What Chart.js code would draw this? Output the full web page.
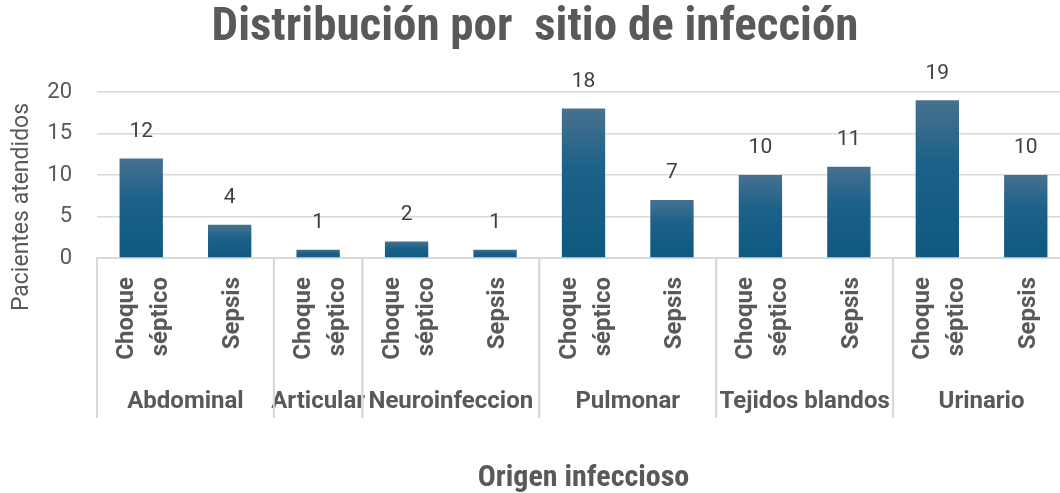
<!DOCTYPE html>
<html>
<head>
<meta charset="utf-8">
<script src="https://cdn.jsdelivr.net/npm/chart.js@4.4.1/dist/chart.umd.min.js"></script>
<style>
  html, body { margin: 0; padding: 0; background: #fff; overflow: hidden; }
  #wrap { width: 1075px; height: 493px; }
</style>
</head>
<body>
<div id="wrap"><canvas id="myChart" width="1075" height="493"></canvas></div>
<script>
const categories = ['Choque séptico', 'Sepsis', 'Choque séptico', 'Choque séptico', 'Sepsis',
  'Choque séptico', 'Sepsis', 'Choque séptico', 'Sepsis', 'Choque séptico', 'Sepsis']
const groups = ['Abdominal', 'Abdominal', 'Articular', 'Neuroinfeccion', 'Neuroinfeccion',
  'Pulmonar', 'Pulmonar', 'Tejidos blandos', 'Tejidos blandos', 'Urinario', 'Urinario']
const values = [12, 4, 1, 2, 1, 18, 7, 10, 11, 19, 10]
const yTicks = [0, 5, 10, 15, 20]

const NARROW = '"Liberation Sans Narrow", "Roboto Condensed", Roboto, sans-serif'
const PLAIN = 'Roboto, "Open Sans", sans-serif'
const GREY = '#595959'
const LINE = '#d9d9d9'

function barGradient(context) {
  const chart = context.chart
  if (!chart.chartArea || context.type !== 'data') return '#155e86'
  const y = chart.scales.y
  const top = y.getPixelForValue(values[context.dataIndex])
  const bottom = y.getPixelForValue(0)
  const g = chart.ctx.createLinearGradient(0, top, 0, bottom)
  g.addColorStop(0, '#47718f')
  g.addColorStop(0.4, '#1c6189')
  g.addColorStop(1, '#0e5980')
  return g
}

// value labels, two-level category axis and y title
const extras = {
  id: 'extras',
  afterDatasetsDraw(chart) {
    const ctx = chart.ctx
    const meta = chart.getDatasetMeta(0)
    ctx.save()
    ctx.fillStyle = '#404040'
    ctx.font = '21px ' + PLAIN
    ctx.textAlign = 'center'
    ctx.textBaseline = 'middle'
    meta.data.forEach((bar, i) => {
      ctx.fillText(String(values[i]), bar.x, bar.y - 27)
    })
    ctx.restore()
  },
  afterDraw(chart) {
    const ctx = chart.ctx
    const x = chart.scales.x
    const area = chart.chartArea
    const half = (x.getPixelForValue(1) - x.getPixelForValue(0)) / 2

    ctx.save()
    // category labels, rotated
    ctx.fillStyle = GREY
    ctx.font = 'bold 24px ' + PLAIN
    ctx.textAlign = 'right'
    ctx.textBaseline = 'middle'
    categories.forEach((label, i) => {
      const lines = label.split(' ')
      const px = x.getPixelForValue(i) + 3
      lines.forEach((line, j) => {
        const dx = (j - (lines.length - 1) / 2) * 34
        ctx.save()
        ctx.translate(px + dx, area.bottom + 19)
        ctx.rotate(-Math.PI / 2)
        ctx.fillText(line, 0, 0)
        ctx.restore()
      })
    })

    // group labels and dividers
    ctx.strokeStyle = LINE
    ctx.lineWidth = 2
    ctx.textAlign = 'center'
    let start = 0
    for (let i = 1; i <= groups.length; i++) {
      if (i === groups.length || groups[i] !== groups[start]) {
        const left = x.getPixelForValue(start) - half
        const right = x.getPixelForValue(i - 1) + half
        ctx.fillText(groups[start], (left + right) / 2, 402)
        ctx.beginPath()
        ctx.moveTo(left, area.bottom)
        ctx.lineTo(left, 418)
        ctx.moveTo(right, area.bottom)
        ctx.lineTo(right, 418)
        ctx.stroke()
        start = i
      }
    }

    // y title
    ctx.font = '23px ' + PLAIN
    ctx.translate(22, 207)
    ctx.rotate(-Math.PI / 2)
    ctx.fillText('Pacientes atendidos', 0, 0)
    ctx.restore()
  }
}

const chartConfig = {
  type: 'bar',
  data: {
    labels: categories,
    datasets: [
      {
        data: values,
        backgroundColor: barGradient,
        borderWidth: 0,
        barPercentage: 0.49,
        categoryPercentage: 1,
      },
    ],
  },
  options: {
    responsive: false,
    animation: false,
    layout: { padding: { left: 0, right: 5, top: 0, bottom: 0 } },
    plugins: {
      legend: { display: false },
      tooltip: { enabled: false },
      title: {
        display: true,
        text: 'Distribución por  sitio de infección',
        color: GREY,
        font: { family: NARROW, size: 47, weight: 'bold', lineHeight: 1.0 },
        padding: { top: 5, bottom: 40 },
      },
    },
    scales: {
      x: {
        grid: { display: false },
        border: { display: true, color: LINE, width: 2 },
        ticks: { display: false },
        title: {
          display: true,
          text: 'Origen infeccioso',
          color: GREY,
          font: { family: NARROW, size: 30, weight: 'bold', lineHeight: 1.0 },
          padding: { top: 0, bottom: 0 },
        },
        afterFit(scale) { scale.height = 235 },
      },
      y: {
        min: 0,
        max: 20,
        afterBuildTicks(scale) { scale.ticks = yTicks.map(v => ({ value: v })) },
        grid: { color: LINE, lineWidth: 1.5, drawTicks: false },
        border: { display: false },
        ticks: {
          color: GREY,
          font: { family: PLAIN, size: 22 },
          padding: 25,
        },
        afterFit(scale) { scale.width = 97 },
      },
    },
  },
  plugins: [extras],
}

const ctx = document.getElementById('myChart').getContext('2d')
const chart = new Chart(ctx, chartConfig)
</script>
</body>
</html>
